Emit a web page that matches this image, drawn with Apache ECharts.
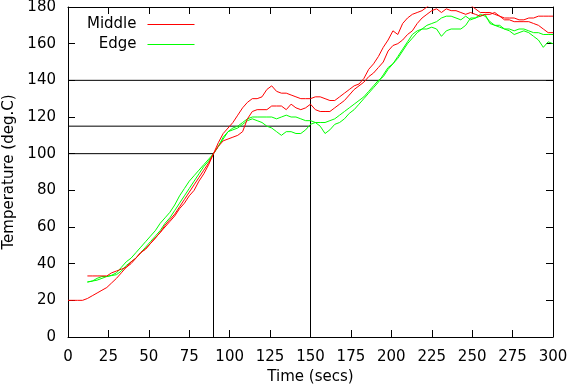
<!DOCTYPE html>
<html>
<head>
<meta charset="utf-8">
<script src="https://cdn.jsdelivr.net/npm/echarts@6/dist/echarts.min.js"></script>
<style>html,body{margin:0;padding:0;background:#fff}#c{width:573px;height:386px}</style>
</head>
<body>
<div id="c"></div>
<script>
const time = [0,3,6,9,12,15,18,21,24,27,30,33,36,39,42,45,48,51,54,57,60,63,66,69,72,75,78,81,84,87,90,93,96,99,102,105,108,111,114,117,120,123,126,129,132,135,138,141,144,147,150,153,156,159,162,165,168,171,174,177,180,183,186,189,192,195,198,201,204,207,210,213,216,219,222,225,228,231,234,237,240,243,246,249,252,255,258,261,264,267,270,273,276,279,282,285,288,291,294,297,300];

const middleA = [20,20,20,20,21,22.5,24,25.5,27,29.5,32,35,38,40,43,46,48,51,54,57,60,63,66,70,73,77,80,85,89,94,100,
104,107,108,109,110,112,119,123,124,124,124,126,126,126,124,127,125,124,125,127,124,123,123,123,125,127,129,132,135,137,139,142,144,147,150,156,159,160,162,165,167,171,174,176,178,179,177,179,178,178,177,176,177,176,175,176,176,177,175,174,174,174,173,173,174,174,175,175,175,175];

const middleB = [null,null,null,null,33.3,33.3,33.3,33.3,33.3,35,36,37,38,41,43,46,48,51,54,57,61,64,67,71,75,79,83,87,91,95,100,
106,111,114,117,121,125,128,130,130,131,135,137,134,133,133,132,131,130,130,130,131,131,130,129,129,131,133,135,137,138,141,146,149,153,158,162,167,165,171,174,176,177,178,180,182,183,183,184,183,182,182,181,181,179,177,177,177,176,175,173,173,172,172,172,172,171,170,168,166,166];

const edgeA = [null,null,null,null,30,30.5,32,33,33,33.7,35,38,41,43,46,49,52,55,58,62,65,68,72,77,81,85,88,91,94,97,100,
104,108,112,114,115,117,119,120,120,120,120,120,119,120,121,120,120,119,118,118,117,117,117,118,119,121,123,125,127,129,131,134,137,140,142,146,149,152,156,160,163,166,168,170,171,172,174,175,175,174,173,175,173,174,176,175,172,170,170,168,168,167,168,168,167,166,166,165,165,165];

const edgeB = [null,null,null,null,30,30.5,31,32,33,33.5,34,36,39,41,43,46,49,52,55,58,62,65,69,73,77,81,85,89,93,96,100,
104,109,112,113,114,116,118,119,118,117,115,114,112,110,112,112,111,111,113,116,117,115,111,113,116,117,119,122,124,127,130,133,136,139,143,147,149,153,157,161,165,167,168,168,169,168,164,167,168,168,168,170,174,174,175,176,171,170,169,168,167,165,166,167,166,164,162,158,161,160];

const guideTimes = [90, 150, 300];
const guideTemps = [100, 115, 140];

const xTicks = {min: 0, max: 300, interval: 25};
const yTicks = {min: 0, max: 180, interval: 20};

const RED = '#ff0000', GREEN = '#00ff00';

function pairs(vals){ return time.map((t,i)=>[t, vals[i]]); }

const FONT = 'DejaVu Sans';
const chart = echarts.init(document.getElementById('c'), null, {renderer:'canvas'});

const guideStyle = {color:'#000', width:1};
function guide(data){
  return {type:'line', data, symbol:'none', lineStyle:guideStyle, itemStyle:{color:'#000'}, silent:true, z:1, legendHoverLink:false};
}

const axisCommon = {
  axisLine:{show:true, onZero:false, lineStyle:{color:'#000', width:1}},
  axisTick:{show:true, inside:true, length:7, lineStyle:{color:'#000', width:1}},
  splitLine:{show:false}
};

function legendFor(name, color, top){
  return {data:[{name, itemStyle:{opacity:0}, lineStyle:{color, width:1, opacity:1}}],
    right:373, top, orient:'vertical', align:'right', itemWidth:47, itemHeight:14,
    textStyle:{fontFamily:FONT, fontSize:15, color:'#000', padding:[0,6,0,0]}, selectedMode:false};
}

chart.setOption({
  animation:false,
  backgroundColor:'#fff',
  textStyle:{fontFamily:FONT},
  grid:{left:68, right:20, top:7, bottom:49, containLabel:false, outerBoundsMode:'none'},
  legend:[legendFor('Middle', RED, 12), legendFor('Edge', GREEN, 32)],
  xAxis:[
    Object.assign({type:'value', position:'bottom', min:xTicks.min, max:xTicks.max, interval:xTicks.interval,
      name:'Time (secs)', nameLocation:'middle', nameGap:30,
      nameTextStyle:{fontFamily:FONT, fontSize:15, color:'#000'},
      axisLabel:{fontFamily:FONT, fontSize:15, color:'#000', margin:13}}, axisCommon),
    Object.assign({type:'value', position:'top', min:xTicks.min, max:xTicks.max, interval:xTicks.interval,
      axisLabel:{show:false}}, axisCommon)
  ],
  yAxis:[
    Object.assign({type:'value', position:'left', min:yTicks.min, max:yTicks.max, interval:yTicks.interval,
      name:'Temperature (deg.C)', nameLocation:'middle', nameGap:45,
      nameTextStyle:{fontFamily:FONT, fontSize:15, color:'#000'},
      axisLabel:{fontFamily:FONT, fontSize:15, color:'#000', margin:12}}, axisCommon),
    Object.assign({type:'value', position:'right', min:yTicks.min, max:yTicks.max, interval:yTicks.interval,
      axisLabel:{show:false}}, axisCommon)
  ],
  series:[
    guide([[0,guideTemps[0]],[guideTimes[0],guideTemps[0]],[guideTimes[0],0]]),
    guide([[0,guideTemps[1]],[guideTimes[1],guideTemps[1]]]),
    guide([[0,guideTemps[2]],[guideTimes[2],guideTemps[2]]]),
    guide([[guideTimes[1],0],[guideTimes[1],guideTemps[2]]]),
    {name:'Middle', type:'line', data:pairs(middleA), symbol:'none', lineStyle:{color:RED, width:1}, itemStyle:{color:RED}, z:3},
    {name:'Middle', type:'line', data:pairs(middleB), symbol:'none', lineStyle:{color:RED, width:1}, itemStyle:{color:RED}, z:3},
    {name:'Edge', type:'line', data:pairs(edgeA), symbol:'none', lineStyle:{color:GREEN, width:1}, itemStyle:{color:GREEN}, z:2},
    {name:'Edge', type:'line', data:pairs(edgeB), symbol:'none', lineStyle:{color:GREEN, width:1}, itemStyle:{color:GREEN}, z:2}
  ]
});
</script>
</body>
</html>
